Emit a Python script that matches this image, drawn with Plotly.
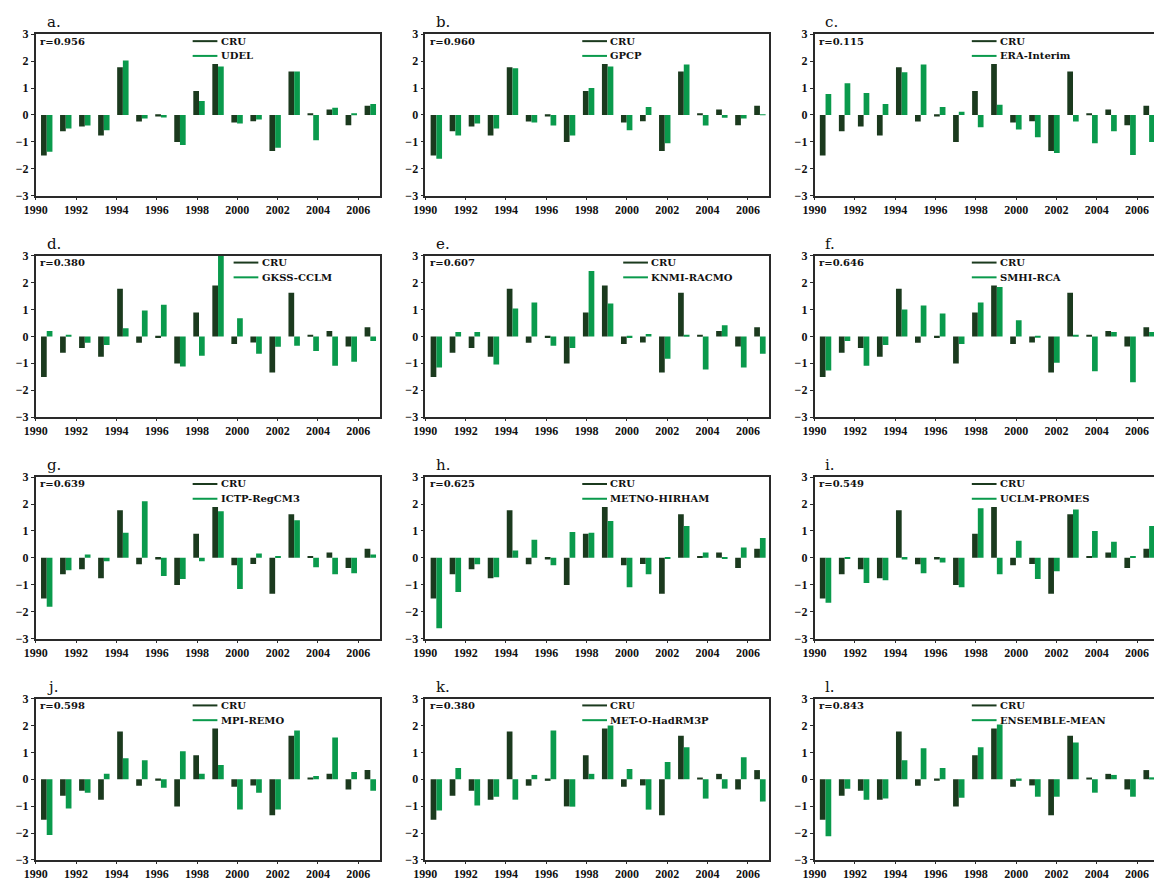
import plotly.graph_objects as go

years = list(range(1990, 2008))
tick_years = list(range(1990, 2007, 2))

cru = [-1.51, -0.61, -0.43, -0.76, 1.77, -0.24, -0.06, -1.01, 0.89, 1.89,
       -0.28, -0.23, -1.34, 1.62, 0.05, 0.20, -0.38, 0.34]

panel_letters = ["a.", "b.", "c.", "d.", "e.", "f.", "g.", "h.", "i.", "j.", "k.", "l."]
model_names = ["UDEL", "GPCP", "ERA-Interim", "GKSS-CCLM", "KNMI-RACMO", "SMHI-RCA",
               "ICTP-RegCM3", "METNO-HIRHAM", "UCLM-PROMES", "MPI-REMO",
               "MET-O-HadRM3P", "ENSEMBLE-MEAN"]
r_values = ["0.956", "0.960", "0.115", "0.380", "0.607", "0.646",
            "0.639", "0.625", "0.549", "0.598", "0.380", "0.843"]

udel = [-1.37, -0.50, -0.39, -0.57, 2.02, -0.13, -0.09, -1.12, 0.52, 1.80,
        -0.32, -0.17, -1.22, 1.62, -0.94, 0.27, 0.05, 0.41]
gpcp = [-1.63, -0.76, -0.32, -0.50, 1.74, -0.28, -0.39, -0.76, 1.00, 1.80,
        -0.57, 0.30, -1.05, 1.88, -0.39, -0.10, -0.13, 0.02]
era_interim = [0.78, 1.18, 0.82, 0.41, 1.59, 1.88, 0.30, 0.12, -0.46, 0.38,
               -0.54, -0.83, -1.41, -0.24, -1.05, -0.61, -1.49, -1.01]
gkss_cclm = [0.20, 0.05, -0.24, -0.32, 0.30, 0.96, 1.18, -1.12, -0.72, 3.00,
             0.67, -0.65, -0.39, -0.35, -0.54, -1.09, -0.94, -0.17]
knmi_racmo = [-1.16, 0.16, 0.16, -1.05, 1.04, 1.26, -0.35, -0.43, 2.43, 1.22,
              -0.06, 0.09, -0.83, 0.05, -1.23, 0.41, -1.16, -0.65]
smhi_rca = [-1.27, -0.17, -1.09, -0.32, 1.00, 1.15, 0.85, -0.28, 1.26, 1.84,
            0.60, -0.02, -0.98, 0.05, -1.30, 0.16, -1.71, 0.16]
ictp_regcm3 = [-1.82, -0.46, 0.12, -0.13, 0.93, 2.10, -0.68, -0.79, -0.13, 1.73,
               -1.16, 0.16, 0.05, 1.40, -0.35, -0.61, -0.57, 0.12]
metno_hirham = [-2.62, -1.27, -0.24, -0.72, 0.27, 0.67, -0.28, 0.96, 0.93, 1.37,
                -1.09, -0.61, -0.02, 1.18, 0.20, -0.02, 0.38, 0.74]
uclm_promes = [-1.67, -0.02, -0.94, -0.83, -0.06, -0.57, -0.17, -1.09, 1.84, -0.61,
               0.63, -0.79, -0.50, 1.80, 1.00, 0.60, 0.05, 1.18]
mpi_remo = [-2.07, -1.09, -0.50, 0.20, 0.78, 0.71, -0.32, 1.04, 0.20, 0.53,
            -1.13, -0.50, -1.13, 1.81, 0.12, 1.55, 0.27, -0.43]
met_o_hadrm3p = [-1.16, 0.42, -0.98, -0.65, -0.76, 0.16, 1.81, -1.02, 0.20, 2.00,
                 0.38, -1.13, 0.64, 1.19, -0.72, -0.35, 0.82, -0.83]
ensemble_mean = [-2.12, -0.35, -0.76, -0.72, 0.71, 1.15, 0.42, -0.69, 1.19, 2.03,
                 -0.06, -0.65, -0.65, 1.37, -0.50, 0.16, -0.65, 0.07]

model_values = [udel, gpcp, era_interim, gkss_cclm, knmi_racmo, smhi_rca,
                ictp_regcm3, metno_hirham, uclm_promes, mpi_remo, met_o_hadrm3p, ensemble_mean]
legend_pos = [0.456, 0.456, 0.457, 0.575, 0.575, 0.457,
              0.456, 0.456, 0.457, 0.456, 0.456, 0.457]

CRU_COLOR = "#1b3a1e"
MODEL_COLOR = "#0a9a4c"
FRAME = "#2a2a2a"

W, H = 1154, 881
col_left = [24.0, 417.7, 811.0]
panel_w = 347.7
row_top = [27.7, 252.7, 477.7, 702.7]
panel_h = 164.0

tick_font = dict(family="Liberation Serif", size=12, color="#111", weight="bold")
txt_font = dict(family="DejaVu Serif", size=10, color="#111", weight="bold")
lab_font = dict(family="DejaVu Serif", size=15, color="#111")

fig = go.Figure()
layout = {}
shapes = []
annotations = []

bar_lo, bar_hi = -0.577, 17.5
slot_span = bar_hi - bar_lo
yr_lo, yr_hi = 1990.0, 2007.07

for k in range(12):
    r, c = divmod(k, 3)
    n = k + 1
    left = col_left[c]
    right = min(left + panel_w, W)
    frac = (right - left) / panel_w
    top = row_top[r]
    bot = top + panel_h
    xd = [left / W, right / W]
    yd = [1 - bot / H, 1 - top / H]

    xs = f"x{n}" if n > 1 else "x"
    ys = f"y{n}" if n > 1 else "y"
    xts = f"x{n + 12}"
    fig.add_trace(go.Bar(x=list(range(len(years))), y=cru, marker_color=CRU_COLOR,
                         marker_line_width=0, name="CRU", showlegend=False,
                         xaxis=xs, yaxis=ys, offsetgroup="a"))
    fig.add_trace(go.Bar(x=list(range(len(years))), y=model_values[k], marker_color=MODEL_COLOR,
                         marker_line_width=0, name=model_names[k], showlegend=False,
                         xaxis=xs, yaxis=ys, offsetgroup="b"))
    # empty carrier trace so the year axis (overlay) gets drawn
    fig.add_trace(go.Scatter(x=tick_years, y=[None] * len(tick_years), mode="lines",
                             showlegend=False, hoverinfo="skip", xaxis=xts, yaxis=ys))

    xa = "xaxis" if n == 1 else f"xaxis{n}"
    ya = "yaxis" if n == 1 else f"yaxis{n}"
    xt = f"xaxis{n + 12}"
    layout[xa] = dict(domain=xd, anchor=ys, range=[bar_lo, bar_lo + frac * slot_span],
                      showticklabels=False, ticks="", showgrid=False, zeroline=False,
                      showline=True, mirror=True, linecolor=FRAME, linewidth=1.5)
    layout[xt] = dict(overlaying=xs, anchor=ys,
                      range=[yr_lo, yr_lo + frac * (yr_hi - yr_lo)],
                      tickvals=tick_years, ticktext=[str(t) for t in tick_years],
                      ticks="outside", ticklen=3, tickcolor=FRAME, showgrid=False,
                      zeroline=False, showline=False, tickfont=tick_font,
                      ticklabeloverflow="allow")
    layout[ya] = dict(domain=yd, anchor=xs, range=[-3, 3], dtick=1, tick0=0,
                      ticks="outside", ticklen=3, tickcolor=FRAME, showgrid=False,
                      zeroline=False, showline=True, mirror=(c != 2), linecolor=FRAME,
                      linewidth=1.5, tickfont=tick_font)

    annotations.append(dict(text=panel_letters[k], xref="paper", yref="paper",
                            x=(left + 9) / W, y=1 - (top - 12) / H, xanchor="left",
                            yanchor="middle", showarrow=False, font=lab_font))
    annotations.append(dict(text="r=" + r_values[k], xref="paper", yref="paper",
                            x=(left + 2.5) / W, y=1 - (top + 7) / H, xanchor="left",
                            yanchor="middle", showarrow=False, font=txt_font))
    lx = left + legend_pos[k] * panel_w
    for j, (nm, col) in enumerate([("CRU", CRU_COLOR), (model_names[k], MODEL_COLOR)]):
        yy = top + 7 + j * 15
        shapes.append(dict(type="line", xref="paper", yref="paper",
                           x0=lx / W, x1=(lx + 25) / W, y0=1 - yy / H, y1=1 - yy / H,
                           line=dict(color=col, width=2)))
        annotations.append(dict(text=nm, xref="paper", yref="paper",
                                x=(lx + 26.5) / W, y=1 - yy / H, xanchor="left",
                                yanchor="middle", showarrow=False, font=txt_font))

fig.update_layout(**layout)
fig.update_layout(width=W, height=H, margin=dict(l=0, r=0, t=0, b=0),
                  paper_bgcolor="white", plot_bgcolor="white",
                  barmode="group", bargap=0.4, bargroupgap=0,
                  shapes=shapes, annotations=annotations, showlegend=False)

fig.write_html("out.html",
               config={"displayModeBar": False},
               post_script="document.body.style.margin='0';"
                           "document.documentElement.style.overflow='hidden';"
                           "document.body.style.overflow='hidden';")
